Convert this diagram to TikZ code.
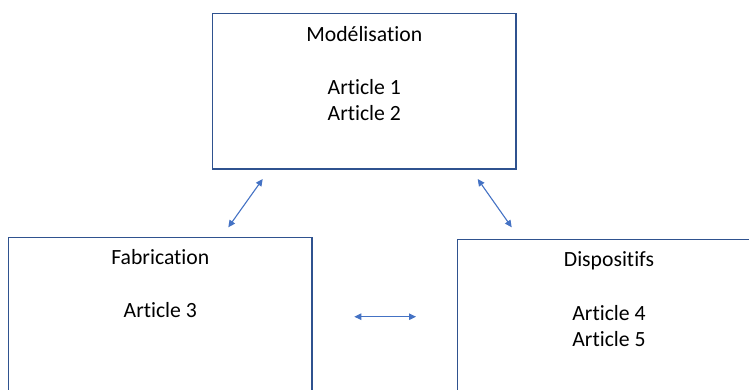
\documentclass[tikz,border=0pt]{standalone}
\usepackage{fontspec}
\setmainfont[Ligatures={NoCommon}]{Carlito}
\usetikzlibrary{arrows.meta}
\definecolor{boxblue}{HTML}{2F528F}
\definecolor{arrblue}{HTML}{4472C4}
\tikzset{
  box/.style={draw=boxblue, line width=1.1bp, fill=none, rectangle, inner sep=0pt, outer sep=0pt},
  lbl/.style={anchor=base, inner sep=0pt, font=\fontsize{21.7bp}{26bp}\selectfont},
  link/.style={draw=arrblue, line width=1.1bp, {Triangle[length=7bp,width=6.5bp]}-{Triangle[length=7bp,width=6.5bp]}}
}
\begin{document}
\begin{tikzpicture}[x=1bp,y=-1bp]
\useasboundingbox (0,0) rectangle (749,389);
\begin{scope}
\clip (0,0) rectangle (749,389);
\node[box, minimum width=303.3bp, minimum height=155.3bp] (top) at (364.35,91.35) {};
\node[box, minimum width=303.3bp, minimum height=162.7bp] (left) at (160.35,318.65) {};
\node[box, minimum width=312.7bp, minimum height=160.7bp] (right) at (613.65,319.65) {};
\end{scope}
\node[lbl] (tmod) at (364.3,41) {Modélisation};
\node[lbl] (ta1) at (364.3,94) {Article 1};
\node[lbl] (ta2) at (364.3,120.3) {Article 2};
\node[lbl] (tfab) at (160.3,264.3) {Fabrication};
\node[lbl] (ta3) at (160.3,317.3) {Article 3};
\node[lbl] (tdis) at (609,266) {Dispositifs};
\node[lbl] (ta4) at (609,320) {Article 4};
\node[lbl] (ta5) at (609,346) {Article 5};
\coordinate (a1s) at (228.3,227.3);
\coordinate (a1e) at (262.7,179);
\coordinate (a2s) at (477.7,179);
\coordinate (a2e) at (511.7,227.3);
\coordinate (a3s) at (354.3,316.7);
\coordinate (a3e) at (416,316.7);
\draw[link] (a1s) -- (a1e);
\draw[link] (a2s) -- (a2e);
\draw[link] (a3s) -- (a3e);
\end{tikzpicture}
\end{document}
